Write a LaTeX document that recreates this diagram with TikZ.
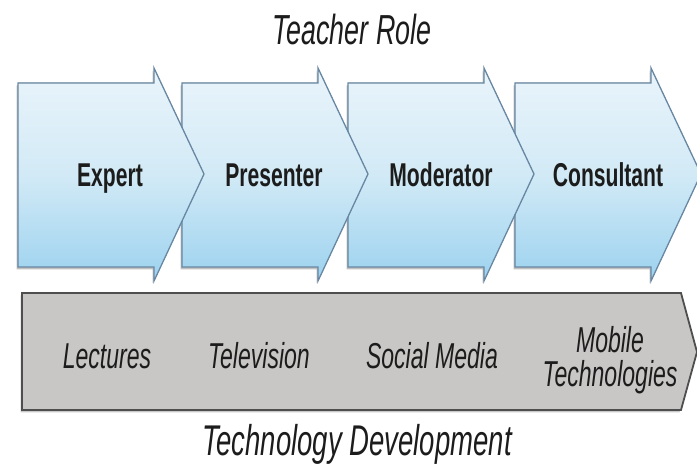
\documentclass[tikz,border=0pt]{standalone}
\usepackage{fontspec}
\newfontfamily\stagefont{Liberation Sans}[FakeStretch=0.64]
\usetikzlibrary{shadows}

\definecolor{chevtop}{HTML}{EAF4FB}
\definecolor{chevmid}{HTML}{D2EAF6}
\definecolor{chevbot}{HTML}{9CD2EF}
\definecolor{chevline}{HTML}{6887A2}
\definecolor{bargray}{HTML}{C9C7C5}
\definecolor{barline}{HTML}{4E4E4E}
\definecolor{ink}{HTML}{1C1C1C}

\tikzset{
  chevron/.style={draw=chevline, line width=1.3pt, line join=miter,
    top color=chevtop, bottom color=chevbot, middle color=chevmid,
    drop shadow={shadow xshift=-1.5pt, shadow yshift=-2.5pt, opacity=.35, fill=black!70}},
  techbar/.style={draw=barline, line width=1.8pt, fill=bargray,
    drop shadow={shadow xshift=-1.5pt, shadow yshift=-2.5pt, opacity=.3, fill=black!70}},
  rolelabel/.style={font=\stagefont\bfseries\fontsize{33}{36}\selectfont, text=ink, anchor=base},
  techlabel/.style={font=\stagefont\itshape\fontsize{36}{34}\selectfont, text=ink, align=center},
  caption/.style={font=\stagefont\itshape\fontsize{42}{44}\selectfont, text=ink, anchor=base}
}

\begin{document}
\begin{tikzpicture}[x=1pt,y=-1pt]
\useasboundingbox (0,0) rectangle (697,465);

\node[caption] (teacher) at (352,45) {Teacher Role};

% chevrons, right one first so each head lies over the next box
\foreach \xl/\nm/\txt/\tx in {515/consultant/Consultant/608, 348/moderator/Moderator/441,
    182/presenter/Presenter/274, 18/expert/Expert/110}{
  \filldraw[chevron] (\xl,83) -- ++(136,0) -- ++(0,-15) -- (\xl+186,174)
    -- (\xl+136,281) -- ++(0,-14) -- (\xl,267) -- cycle;
  \node[rolelabel] (\nm) at (\tx,187) {\txt};
}

% grey band underneath
\filldraw[techbar] (22,293) -- (681,293) -- (697,352) -- (681,410) -- (22,410) -- cycle;

\node[techlabel, anchor=base] (lectures) at (107,369) {Lectures};
\node[techlabel, anchor=base] (tv) at (259,369) {Television};
\node[techlabel, anchor=base] (social) at (432,369) {Social Media};
\node[techlabel] (mobile) at (610,360) {Mobile\\Technologies};

\node[caption, font=\stagefont\itshape\fontsize{43}{44}\selectfont] (techdev) at (357,455) {Technology Development};
\end{tikzpicture}
\end{document}
